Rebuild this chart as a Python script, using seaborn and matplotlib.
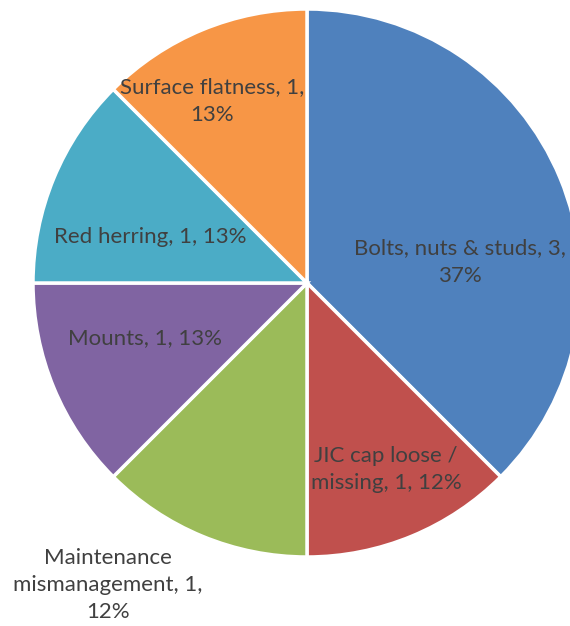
import matplotlib
matplotlib.use("Agg")
import matplotlib.pyplot as plt
import seaborn as sns

categories = ["Bolts, nuts & studs", "JIC cap loose /\nmissing", "Maintenance\nmismanagement",
              "Mounts", "Red herring", "Surface flatness"]
values = [3, 1, 1, 1, 1, 1]
pct_labels = ["37%", "12%", "12%", "13%", "13%", "13%"]
label_texts = ["Bolts, nuts & studs, 3,\n37%", "JIC cap loose /\nmissing, 1, 12%",
               "Maintenance\nmismanagement, 1,\n12%", "Mounts, 1, 13%",
               "Red herring, 1, 13%", "Surface flatness, 1,\n13%"]

# layout (label centres in pie-radius units)
label_pos = [(0.558, 0.077), (0.288, -0.682), (-0.726, -1.102),
             (-0.591, -0.201), (-0.573, 0.168), (-0.347, 0.664)]

sns.set_theme(style="white")
plt.rcParams['font.family'] = ['Lato', 'DejaVu Sans']

colors = ["#4F81BD", "#C0504D", "#9BBB59", "#8064A2", "#4BACC6", "#F79646"]

W, H = 570, 626
fig = plt.figure(figsize=(W / 100, H / 100), dpi=100)
cx, cy, r = 307, 283, 274
ax = fig.add_axes([(cx - r) / W, (H - cy - r) / H, 2 * r / W, 2 * r / H])
ax.pie(values, colors=colors, startangle=90, counterclock=False, radius=1,
       wedgeprops=dict(edgecolor="white", linewidth=2.5))
ax.set_xlim(-1, 1)
ax.set_ylim(-1, 1)
ax.set_aspect("equal")
ax.axis("off")
for txt, (x, y) in zip(label_texts, label_pos):
    ax.text(x, y, txt, ha="center", va="center", fontsize=16, color="#404040",
            linespacing=1.45, clip_on=False)

fig.savefig("out.png", dpi=100)
